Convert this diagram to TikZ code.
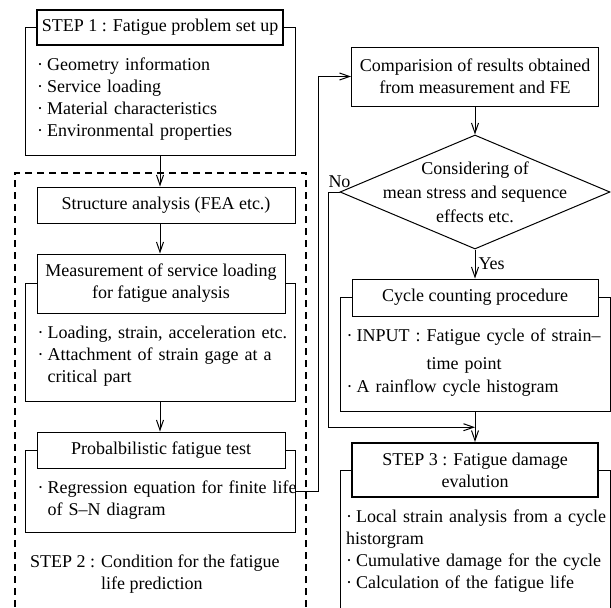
\documentclass[tikz,border=0pt]{standalone}
\usepackage{fontspec}
\setmainfont{Liberation Serif}
\usetikzlibrary{calc}
\usetikzlibrary{positioning}
\usetikzlibrary{arrows.meta}
\usetikzlibrary{fit}
\usetikzlibrary{shapes.geometric}
\usetikzlibrary{backgrounds}

% bullet, and bullet item whose wrapped lines hang under the text
\newcommand{\bul}{\makebox[10pt][l]{·}}
\newcommand{\bulpar}[1]{\makebox[10pt][l]{·}\parbox[t]{250pt}{\raggedright #1}}

\begin{document}
\begin{tikzpicture}[x=1pt,y=-1pt,font=\fontsize{18}{22}\selectfont,
head/.style={draw,fill=white,line width=1pt,align=center,inner sep=2pt},
stephead/.style={head,line width=2pt},
items/.style={anchor=north west,align=left,text width=265pt,inner xsep=0pt,inner ysep=12pt},
frame/.style={draw,line width=1pt,inner sep=0pt},
group/.style={draw,line width=1.2pt,dash pattern=on 7pt off 5pt,inner sep=0pt},
decide/.style={draw,diamond,line width=1pt,minimum width=270pt,minimum height=114pt,inner sep=0pt},
arr/.style={-{Straight Barb[length=10pt,width=7pt]},line width=1pt}]
\useasboundingbox (0,0) rectangle (611,608);

% left column
\node[stephead,minimum width=246pt,minimum height=35pt] (t1) at (160,27.5) {STEP 1 : Fatigue problem set up};
\node[items] (b1) at ($(t1.south west)+(1,0)$) {\bul Geometry information\\ \bul Service loading\\ \bul Material characteristics\\ \bul Environmental properties};
\node[head,minimum width=258pt,minimum height=36pt] (fea) at (166,205) {Structure analysis (FEA etc.)};
\node[head,minimum width=248pt,minimum height=59pt] (t2) at (161,283.5) {Measurement of service loading\\for fatigue analysis};
\node[items] (b2) at ($(t2.south west)+(1,0)$) {\bul Loading, strain, acceleration etc.\\ \bulpar{Attachment of strain gage at a\\critical part}};
\node[head,minimum width=248pt,minimum height=36pt] (t3) at (161,450) {Probalbilistic fatigue test};
\node[items] (b3) at ($(t3.south west)+(1,0)$) {\bulpar{Regression equation for finite life\\of S--N diagram}};
\node[anchor=north west,align=left,inner sep=0pt] (s2) at (30,555) {STEP 2 : Condition for the fatigue\\ \phantom{STEP 2 : }life prediction};

% right column
\node[head,minimum width=247pt,minimum height=59pt] (cmp) at (475,76.5) {Comparision of results obtained\\from measurement and FE};
\node[decide,label={[align=center,font=\fontsize{18}{24}\selectfont]center:{Considering of\\mean stress and sequence\\effects etc.}}] (dec) at (475,192) {};
\node[head,minimum width=246pt,minimum height=37pt] (t4) at (475,297.5) {Cycle counting procedure};
\node[items] (b4) at ($(t4.south west)+(-5,0)$) {\bulpar{INPUT : Fatigue cycle of strain--\\[6pt]\phantom{INPUT : }time point}\\[6pt] \bul A rainflow cycle histogram};
\node[stephead,minimum width=246pt,minimum height=54pt] (t5) at (475,470) {STEP 3 : Fatigue damage\\evalution};
\node[items] (b5) at ($(t5.south west)+(-5,0)$) {\bul Local strain analysis from a cycle\\ historgram\\ \bul Cumulative damage for the cycle\\ \bul Calculation of the fatigue life};
\node[above=1pt of dec.west] (no) {No};

% frames behind the headings
\begin{scope}[on background layer]
\node[frame,fit={($(t1.center)+(-135,0)$) ($(t1.center |- b1.south)+(135,3)$)}] (f1) {};
\node[frame,fit={($(t2.center)+(-136,0)$) ($(t2.center |- b2.south)+(134,3)$)}] (f2) {};
\node[frame,fit={($(t3.center)+(-136,0)$) ($(t3.center |- b3.south)+(134,1)$)}] (f3) {};
\node[frame,fit={($(t4.center)+(-135,0)$) ($(t4.center |- b4.south)+(135,3)$)}] (f4) {};
\node[frame,fit={($(t5.center)+(-135,0)$) ($(t5.center)+(135,170)$)}] (f5) {};
\node[group,fit={(15,173) (306,640)}] (grp) {};
\end{scope}

\coordinate (join) at ($(f4.south)!0.5!(t5.north)$);
\draw[arr] (f1.south) -- (f1.south |- fea.north);
\draw[arr] (f1.south |- fea.south) -- (f1.south |- t2.north);
\draw[arr] (f2.south) -- (f2.south |- t3.north);
\draw[arr] (f3.east) -- ++(23,0) |- (cmp.west);
\draw[arr] (cmp.south) -- (dec.north);
\draw[arr] (dec.south) -- node[right,inner sep=3pt] {Yes} (t4.north);
\draw[arr] (f4.south) -- (t5.north);
\draw[arr] (dec.west) -- ++(-11,0) |- (join);
\end{tikzpicture}
\end{document}
